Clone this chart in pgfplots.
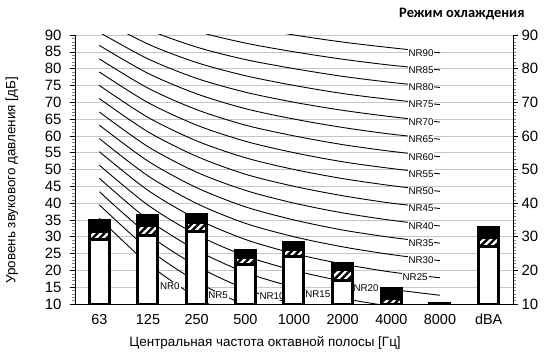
\documentclass[border=0pt]{standalone}
\usepackage{fontspec}
\setmainfont{Liberation Sans}
\newfontfamily\titlefont{Carlito}
\usepackage{pgfplots}
\pgfplotsset{compat=1.18}
\usetikzlibrary{patterns.meta}

\tikzset{
  nrlabel/.style={fill=white, inner sep=1bp, font=\fontsize{9.8}{11}\selectfont},
}
\pgfplotsset{
  nrcurve/.style={black, line width=0.9bp, smooth, tension=0.5, mark=none},
  barbase/.style={ybar, bar width=20bp, bar shift=0pt, draw=black,
                  line width=3bp, line join=miter, mark=none},
}

\begin{document}
\begin{tikzpicture}
\begin{axis}[
  name=main,
  at={(0,0)}, anchor=south west,
  scale only axis, width=438bp, height=269bp,
  xmin=-0.5, xmax=8.5, ymin=10, ymax=90,
  xtick={0,...,8},
  xticklabels={63,125,250,500,1000,2000,4000,8000,dBA},
  ytick={10,15,...,90}, minor y tick num=4,
  axis x line*=bottom, axis y line*=left,
  axis line style={-, line width=0.8bp},
  ymajorgrids, major grid style={gray!45, line width=0.6bp},
  tick align=outside, major tick length=5bp, minor tick length=3bp,
  x tick style={draw=none},
  y tick style={black, line width=0.5bp},
  minor y tick style={gray, line width=0.4bp},
  /pgf/number format/assume math mode=true,
  yticklabel shift=5bp,
  yticklabel style={font=\fontsize{15}{17}\selectfont},
  xticklabel style={font=\fontsize{14.5}{17}\selectfont, yshift=-2bp},
  xlabel={Центральная частота октавной полосы [Гц]},
  xlabel style={at={(axis description cs:0.434,-0.145)}, anchor=center,
                font=\fontsize{13.5}{16}\selectfont},
  ylabel={Уровень звукового давления [дБ]},
  ylabel style={at={(axis description cs:-0.144,0.46)}, anchor=center,
                rotate=0, font=\fontsize{13.5}{16}\selectfont},
]
% NR rating curves, octave bands 63 ... 8000 Hz
\addplot[nrcurve] coordinates {(0,35.5)(1,22.0)(2,12.0)(3,4.8)(4,0.0)(5,-3.5)(6,-6.1)(7,-8.0)};
\addplot[nrcurve] coordinates {(0,39.5)(1,26.4)(2,16.7)(3,9.7)(4,5.0)(5,1.6)(6,-1.0)(7,-2.9)};
\addplot[nrcurve] coordinates {(0,43.4)(1,30.7)(2,21.3)(3,14.5)(4,10.0)(5,6.7)(6,4.2)(7,2.3)};
\addplot[nrcurve] coordinates {(0,47.4)(1,35.1)(2,26.0)(3,19.4)(4,15.0)(5,11.7)(6,9.3)(7,7.5)};
\addplot[nrcurve] coordinates {(0,51.3)(1,39.4)(2,30.6)(3,24.3)(4,20.0)(5,16.8)(6,14.4)(7,12.6)};
\addplot[nrcurve] coordinates {(0,55.3)(1,43.8)(2,35.3)(3,29.2)(4,25.0)(5,21.9)(6,19.5)(7,17.8)};
\addplot[nrcurve] coordinates {(0,59.2)(1,48.1)(2,39.9)(3,34.0)(4,30.0)(5,27.0)(6,24.7)(7,22.9)};
\addplot[nrcurve] coordinates {(0,63.2)(1,52.5)(2,44.6)(3,38.9)(4,35.0)(5,32.0)(6,29.8)(7,28.1)};
\addplot[nrcurve] coordinates {(0,67.1)(1,56.8)(2,49.2)(3,43.8)(4,40.0)(5,37.1)(6,34.9)(7,33.2)};
\addplot[nrcurve] coordinates {(0,71.1)(1,61.2)(2,53.9)(3,48.6)(4,45.0)(5,42.2)(6,40.0)(7,38.4)};
\addplot[nrcurve] coordinates {(0,75.0)(1,65.5)(2,58.5)(3,53.5)(4,50.0)(5,47.3)(6,45.2)(7,43.5)};
\addplot[nrcurve] coordinates {(0,79.0)(1,69.9)(2,63.2)(3,58.4)(4,55.0)(5,52.3)(6,50.3)(7,48.7)};
\addplot[nrcurve] coordinates {(0,82.9)(1,74.2)(2,67.8)(3,63.2)(4,60.0)(5,57.4)(6,55.4)(7,53.8)};
\addplot[nrcurve] coordinates {(0,86.9)(1,78.6)(2,72.5)(3,68.1)(4,65.0)(5,62.5)(6,60.5)(7,59.0)};
\addplot[nrcurve] coordinates {(0,90.8)(1,82.9)(2,77.1)(3,73.0)(4,70.0)(5,67.6)(6,65.7)(7,64.1)};
\addplot[nrcurve] coordinates {(0,94.8)(1,87.3)(2,81.8)(3,77.9)(4,75.0)(5,72.6)(6,70.8)(7,69.3)};
\addplot[nrcurve] coordinates {(0,98.7)(1,91.6)(2,86.4)(3,82.7)(4,80.0)(5,77.7)(6,75.9)(7,74.4)};
\addplot[nrcurve] coordinates {(0,102.7)(1,96.0)(2,91.1)(3,87.6)(4,85.0)(5,82.8)(6,81.0)(7,79.6)};
\addplot[nrcurve] coordinates {(0,106.6)(1,100.3)(2,95.7)(3,92.5)(4,90.0)(5,87.9)(6,86.2)(7,84.7)};

% curve names
\node[nrlabel] at (axis cs:1.45,15.3) {NR0};
\node[nrlabel] at (axis cs:2.44,12.7) {NR5};
\node[nrlabel] at (axis cs:3.55,12.4) {NR10};
\node[nrlabel] at (axis cs:4.49,13.0) {NR15};
\node[nrlabel] at (axis cs:5.48,14.8) {NR20};
\node[nrlabel] at (axis cs:6.49,18.0) {NR25};
\node[nrlabel] at (axis cs:6.61,22.9) {NR30};
\node[nrlabel] at (axis cs:6.61,28.1) {NR35};
\node[nrlabel] at (axis cs:6.61,33.2) {NR40};
\node[nrlabel] at (axis cs:6.61,38.4) {NR45};
\node[nrlabel] at (axis cs:6.61,43.5) {NR50};
\node[nrlabel] at (axis cs:6.61,48.7) {NR55};
\node[nrlabel] at (axis cs:6.61,53.8) {NR60};
\node[nrlabel] at (axis cs:6.61,59.0) {NR65};
\node[nrlabel] at (axis cs:6.61,64.1) {NR70};
\node[nrlabel] at (axis cs:6.61,69.3) {NR75};
\node[nrlabel] at (axis cs:6.61,74.4) {NR80};
\node[nrlabel] at (axis cs:6.61,79.6) {NR85};
\node[nrlabel] at (axis cs:6.61,84.7) {NR90};

% measured spectrum: total level (black), upper hatched band, base level (white)
\addplot[barbase, fill=black] coordinates
  {(0,34.8)(1,36.3)(2,36.5)(3,25.8)(4,28.3)(5,22.1)(6,14.5)(7,10.1)(8,32.8)};
\addplot[barbase, fill=white,
         postaction={pattern={Lines[angle=45,distance=5bp,line width=2.4bp]},
                     pattern color=black}] coordinates
  {(0,31.6)(1,33.3)(2,34.2)(3,23.8)(4,26.2)(5,20.2)(6,11.5)(7,8.0)(8,29.9)};
\addplot[barbase, fill=white] coordinates
  {(0,29.2)(1,30.5)(2,31.7)(3,21.6)(4,24.1)(5,17.0)(6,9.0)(7,6.0)(8,27.2)};
\end{axis}

\begin{axis}[
  at={(0,0)}, anchor=south west,
  scale only axis, width=438bp, height=269bp,
  xmin=-0.5, xmax=8.5, ymin=10, ymax=90,
  axis x line=none, axis y line*=right,
  axis line style={-, line width=0.8bp},
  ytick={10,20,...,90}, minor y tick num=9,
  tick align=outside, major tick length=5bp, minor tick length=3bp,
  y tick style={black, line width=0.5bp},
  minor y tick style={gray, line width=0.4bp},
  /pgf/number format/assume math mode=true,
  yticklabel style={font=\fontsize{15}{17}\selectfont},
]
\end{axis}

% operating mode caption
\node[anchor=east, font=\titlefont\bfseries\fontsize{14.5}{17}\selectfont]
  at ([xshift=15bp,yshift=21bp]main.north east) {Режим охлаждения};

\pgfresetboundingbox
\useasboundingbox (-75bp,-55bp) rectangle (469bp,304bp);
\end{tikzpicture}
\end{document}
